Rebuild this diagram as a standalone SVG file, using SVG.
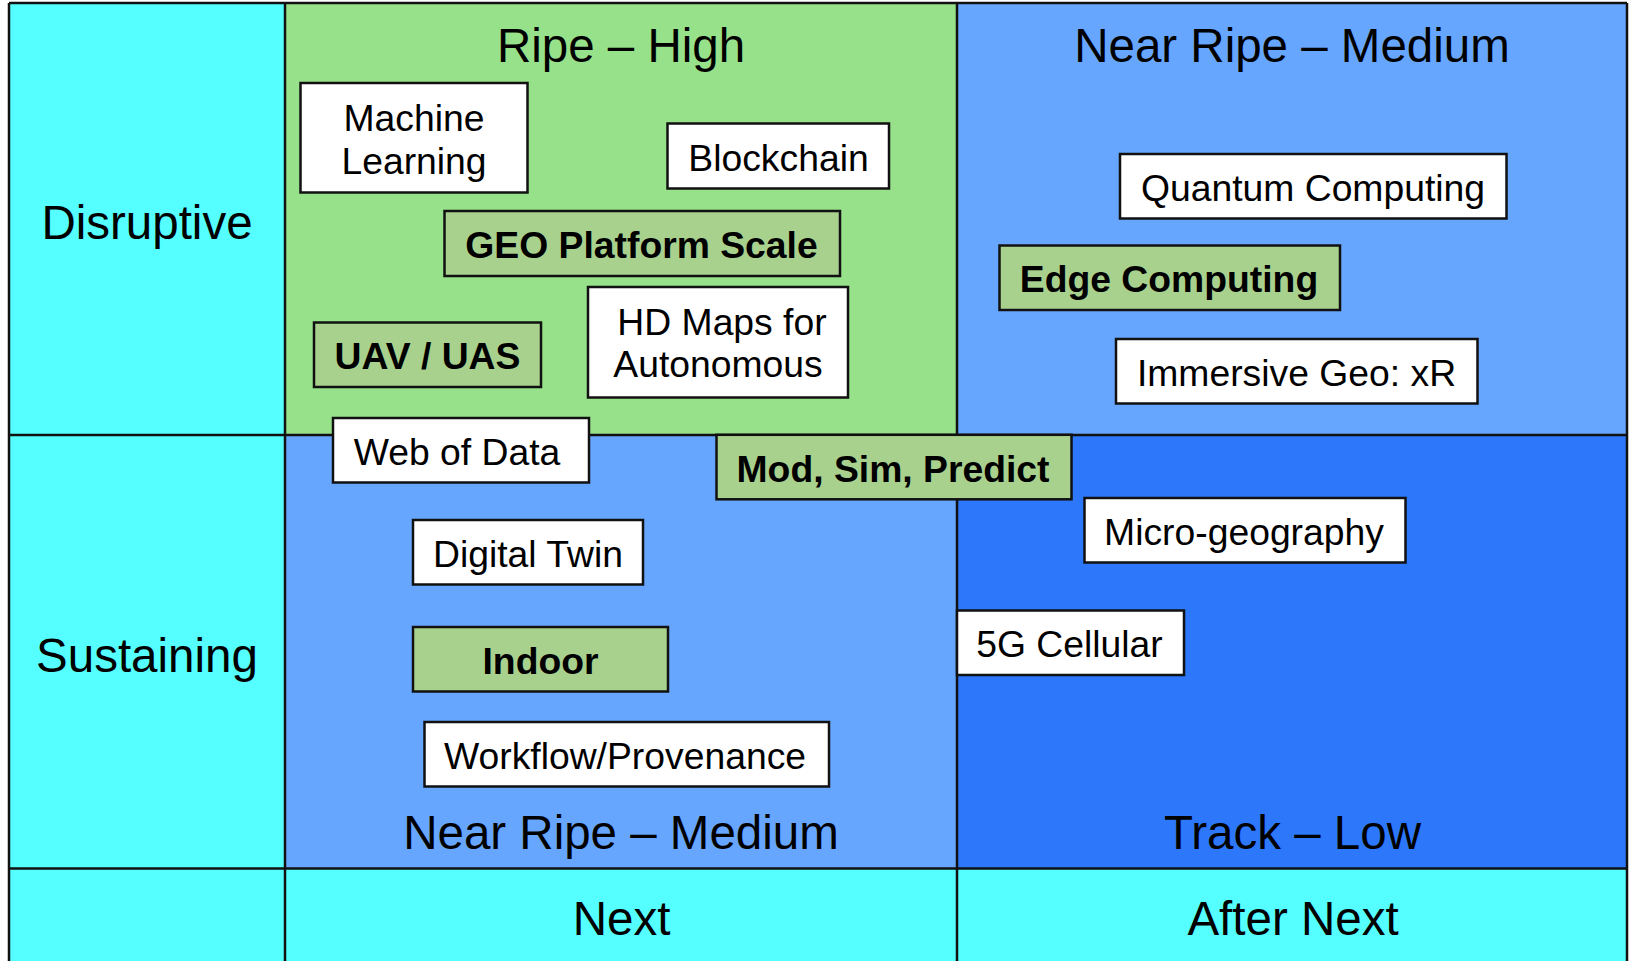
<svg xmlns="http://www.w3.org/2000/svg" width="1631" height="961" viewBox="0 0 1631 961">
  <style>
    .grid { stroke: #111; stroke-width: 2.5; }
    .box { stroke: #111; stroke-width: 2.5; }
    .plain { fill: #ffffff; }
    .hot { fill: #a9d18e; }
    .head { font-family: "Liberation Sans", Arial, sans-serif; font-size: 47.5px; fill: #000; text-anchor: middle; }
    .lbl { font-family: "Liberation Sans", Arial, sans-serif; font-size: 37.3px; fill: #000; text-anchor: middle; }
    .bold { font-weight: bold; }
  </style>

  <rect width="1631" height="961" fill="#ffffff"/>

  <!-- matrix cells -->
  <g id="cells">
    <rect x="9" y="3" width="276" height="958" fill="#55ffff"/>
    <rect x="285" y="868.5" width="1342" height="93" fill="#55ffff"/>
    <rect x="285" y="3" width="672" height="432" fill="#97e18a"/>
    <rect x="957" y="3" width="670" height="432" fill="#67a6ff"/>
    <rect x="285" y="435" width="672" height="433.5" fill="#67a6ff"/>
    <rect x="957" y="435" width="670" height="433.5" fill="#2d77fa"/>
  </g>

  <!-- grid lines -->
  <g id="grid" class="grid" fill="none">
    <line x1="9" y1="3" x2="1627" y2="3"/>
    <line x1="9" y1="3" x2="9" y2="961"/>
    <line x1="1627" y1="3" x2="1627" y2="961"/>
    <line x1="285" y1="3" x2="285" y2="961"/>
    <line x1="957" y1="3" x2="957" y2="961"/>
    <line x1="9" y1="435" x2="1627" y2="435"/>
    <line x1="9" y1="868.5" x2="1627" y2="868.5"/>
  </g>

  <!-- axis and quadrant headings -->
  <g id="headings">
    <text class="head" x="147" y="238.5">Disruptive</text>
    <text class="head" x="147" y="671.5">Sustaining</text>
    <text class="head" x="621" y="61.5">Ripe – High</text>
    <text class="head" x="1292" y="61.5">Near Ripe – Medium</text>
    <text class="head" x="621" y="849">Near Ripe – Medium</text>
    <text class="head" x="1292.5" y="849">Track – Low</text>
    <text class="head" x="621.5" y="934.5">Next</text>
    <text class="head" x="1293" y="934.5">After Next</text>
  </g>

  <!-- technology items -->
  <g id="machine-learning">
    <rect class="box plain" x="300.5" y="83" width="227" height="109.5"/>
    <text class="lbl" x="414" y="130.5">Machine</text>
    <text class="lbl" x="414" y="173.5">Learning</text>
  </g>
  <g id="blockchain">
    <rect class="box plain" x="667.5" y="123.5" width="221.5" height="65"/>
    <text class="lbl" x="778.5" y="170.5">Blockchain</text>
  </g>
  <g id="geo-platform-scale">
    <rect class="box hot" x="444.5" y="211" width="395.5" height="65"/>
    <text class="lbl bold" x="641.5" y="258">GEO Platform Scale</text>
  </g>
  <g id="uav-uas">
    <rect class="box hot" x="314" y="322.5" width="227" height="64.5"/>
    <text class="lbl bold" x="427.5" y="369">UAV / UAS</text>
  </g>
  <g id="hd-maps">
    <rect class="box plain" x="588" y="287" width="260" height="110.5"/>
    <text class="lbl" x="722" y="335">HD Maps for</text>
    <text class="lbl" x="718" y="377">Autonomous</text>
  </g>
  <g id="quantum-computing">
    <rect class="box plain" x="1120" y="154" width="386.5" height="64.5"/>
    <text class="lbl" x="1313" y="200.5">Quantum Computing</text>
  </g>
  <g id="edge-computing">
    <rect class="box hot" x="999.5" y="245.5" width="340.5" height="64.5"/>
    <text class="lbl bold" x="1169" y="292">Edge Computing</text>
  </g>
  <g id="immersive-geo">
    <rect class="box plain" x="1116" y="339" width="361.5" height="64.5"/>
    <text class="lbl" x="1296.5" y="385.5">Immersive Geo: xR</text>
  </g>
  <g id="web-of-data">
    <rect class="box plain" x="333" y="418" width="256" height="64.5"/>
    <text class="lbl" x="457" y="464.5">Web of Data</text>
  </g>
  <g id="mod-sim-predict">
    <rect class="box hot" x="716.5" y="434.8" width="355" height="64.5"/>
    <text class="lbl bold" x="893" y="481.5">Mod, Sim, Predict</text>
  </g>
  <g id="micro-geography">
    <rect class="box plain" x="1084.5" y="498" width="321" height="64.5"/>
    <text class="lbl" x="1244" y="544.5">Micro-geography</text>
  </g>
  <g id="digital-twin">
    <rect class="box plain" x="413" y="520" width="230" height="64.5"/>
    <text class="lbl" x="528" y="566.5">Digital Twin</text>
  </g>
  <g id="cellular-5g">
    <rect class="box plain" x="957" y="610.5" width="227" height="64.5"/>
    <text class="lbl" x="1069.5" y="657">5G Cellular</text>
  </g>
  <g id="indoor">
    <rect class="box hot" x="413" y="627" width="255" height="64.5"/>
    <text class="lbl bold" x="540.5" y="673.5">Indoor</text>
  </g>
  <g id="workflow-provenance">
    <rect class="box plain" x="424.5" y="722" width="404.5" height="64.5"/>
    <text class="lbl" x="625" y="768.5">Workflow/Provenance</text>
  </g>

  <!-- no connectors in this matrix -->
  <g id="connectors"/>
</svg>
